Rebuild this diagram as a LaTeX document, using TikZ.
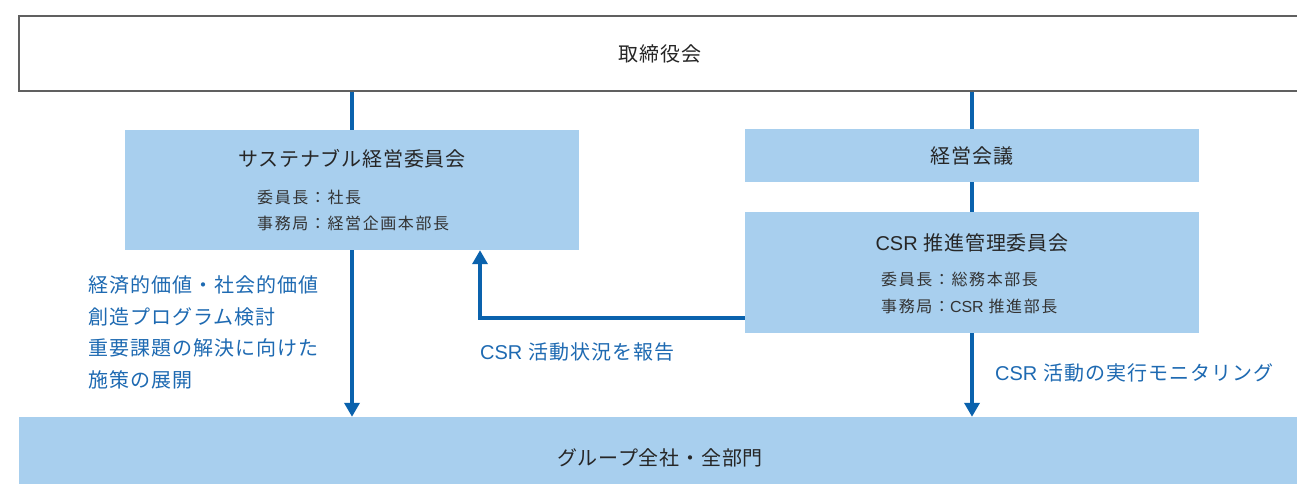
\documentclass[tikz,border=0pt]{standalone}
\usepackage{fontspec}
\setmainfont{Noto Sans CJK JP}
\newfontfamily\jptitle[LetterSpace=4]{Noto Sans CJK JP}
\newfontfamily\jpsub[LetterSpace=10]{Noto Sans CJK JP}
\newfontfamily\jpblue[LetterSpace=5]{Noto Sans CJK JP}
\newfontfamily\latinf{Liberation Sans}
\newcommand{\csrw}{{\latinf CSR}\hspace{0.3em}}
\usetikzlibrary{arrows.meta}
\definecolor{boxblue}{HTML}{A8CFEE}
\definecolor{lineblue}{HTML}{0A62AD}
\definecolor{txtblue}{HTML}{1E6AB2}
\definecolor{txtdark}{HTML}{262626}
\definecolor{txtgrey}{HTML}{333333}
\definecolor{bordergrey}{HTML}{606060}
\tikzset{
  bluebox/.style={fill=boxblue, draw=none, inner sep=0pt},
  boardbox/.style={draw=bordergrey, line width=1.3pt, fill=white, inner sep=0pt},
  titletext/.style={font=\jptitle\fontsize{20}{24}\selectfont, text=txtdark, inner sep=0pt},
  subtext/.style={font=\jpsub\fontsize{16}{20}\selectfont, text=txtgrey, inner sep=0pt, anchor=west},
  bluetext/.style={font=\jpblue\fontsize{20}{31.7}\selectfont, text=txtblue, inner sep=0pt},
  conn/.style={draw=lineblue, line width=4.5pt},
  arr/.style={conn, -{Triangle[width=15pt,length=14pt]}},
}
\begin{document}
\begin{tikzpicture}[x=1pt,y=-1pt]
\clip (0,0) rectangle (1297,483);
\fill[white] (0,0) rectangle (1297,483);
% boxes
\node[boardbox, minimum width=1282pt, minimum height=75pt] (board) at (660,53.5) {};
\node[bluebox, minimum width=1282pt, minimum height=82pt] (group) at (660,458) {};
\node[bluebox, minimum width=454pt, minimum height=120pt] (sust) at (352,190) {};
\node[bluebox, minimum width=454pt, minimum height=53pt] (kaigi) at (972,155.5) {};
\node[bluebox, minimum width=454pt, minimum height=121pt] (csr) at (972,272.5) {};
% texts
\node[titletext] (boardt) at (board.center) {取締役会};
\node[titletext] (groupt) at (group.center) {グループ全社・全部門};
\node[titletext] (sustt) at (352,159) {サステナブル経営委員会};
\node[subtext] (susts1) at (257,197) {委員長：社長};
\node[subtext] (susts2) at (257,223) {事務局：経営企画本部長};
\node[titletext] (kaigit) at (kaigi.center) {経営会議};
\node[titletext] (csrt) at (972,243) {\csrw 推進管理委員会};
\node[subtext] (csrs1) at (881,279) {委員長：総務本部長};
\node[subtext] (csrs2) at (881,306) {事務局：\csrw 推進部長};
\node[bluetext, anchor=west, align=left] (lefttxt) at (88,332.5) {経済的価値・社会的価値\\創造プログラム検討\\重要課題の解決に向けた\\施策の展開};
\node[bluetext, anchor=west] (reptxt) at (480,352) {\csrw 活動状況を報告};
\node[bluetext, anchor=west] (montxt) at (995,373) {\csrw 活動の実行モニタリング};
% connectors
\draw[conn] (sust.north |- board.south) -- (sust.north);
\draw[conn] (kaigi.north |- board.south) -- (kaigi.north);
\draw[conn] (kaigi.south) -- (csr.north);
\draw[arr] (sust.south) -- (sust.south |- group.north);
\draw[arr] (csr.south) -- (csr.south |- group.north);
\coordinate (repstart) at ([yshift=15pt]csr.south west);
\coordinate (repend) at ([xshift=128pt]sust.south);
\draw[arr] (repstart) -| (repend);
\end{tikzpicture}
\end{document}
